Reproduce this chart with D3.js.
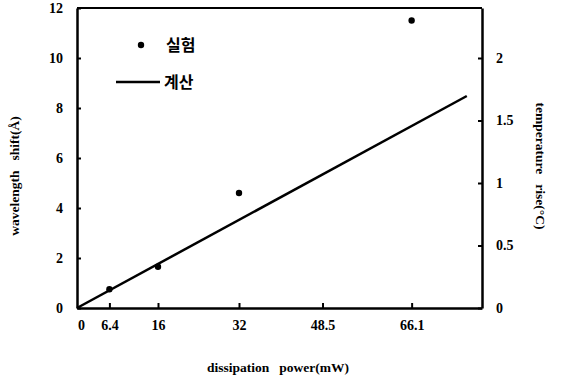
<!DOCTYPE html>
<html lang="en">
<head>
<meta charset="utf-8">
<script src="https://d3js.org/d3.v7.min.js"></script>
<style>
  body { margin: 0; background: #fff; }
  text { font-family: "Liberation Serif", "DejaVu Serif", serif; font-weight: bold; fill: #000; }
  .kr { font-family: "Noto Sans CJK KR", sans-serif; font-weight: bold; }
  .title { white-space: pre; }
</style>
</head>
<body>
<script>
// measured points (실험)
var powerPts = [6.4, 16, 32, 66.1];
var shiftPts = [0.75, 1.65, 4.6, 11.5];
// calculated line (계산)
var powerLine = [0, 77];
var shiftLine = [0, 8.48];
var xTicks = [0, 6.4, 16, 32, 48.5, 66.1];
var yTicks = [0, 2, 4, 6, 8, 10, 12];
var tTicks = [0, 0.5, 1, 1.5, 2];

var W = 563, H = 383;
var pLeft = 77, pRight = 482, pTop = 8, pBottom = 308;

var svg = d3.select("body").append("svg")
    .attr("width", W).attr("height", H);

var x = d3.scaleLinear().domain([0, 80]).range([pLeft, pRight]);
var y = d3.scaleLinear().domain([0, 12]).range([pBottom, pTop]);
var yT = d3.scaleLinear().domain([0, 2.4]).range([pBottom, pTop]);

// frame top line
svg.append("line").attr("x1", pLeft).attr("x2", pRight).attr("y1", pTop).attr("y2", pTop)
    .attr("stroke", "#000").attr("stroke-width", 2);

var gl = svg.append("g").attr("transform", "translate(" + pLeft + ",0)")
    .call(d3.axisLeft(y).tickValues(yTicks).tickSizeInner(-4).tickSizeOuter(0).tickPadding(14));
var gb = svg.append("g").attr("transform", "translate(0," + pBottom + ")")
    .call(d3.axisBottom(x).tickValues(xTicks).tickSizeInner(-5).tickSizeOuter(0).tickPadding(12)
      .tickFormat(function (d) { return d; }));
var gr = svg.append("g").attr("transform", "translate(" + pRight + ",0)")
    .call(d3.axisRight(yT).tickValues(tTicks).tickSizeInner(-4).tickSizeOuter(0).tickPadding(14)
      .tickFormat(function (d) { return d; }));

[gl, gb, gr].forEach(function (g) {
  g.select(".domain").attr("stroke", "#000").attr("stroke-width", 2.5);
  g.selectAll(".tick line").attr("stroke", "#000").attr("stroke-width", 2);
  g.selectAll(".tick text").attr("font-size", 14).style("font-family", "Liberation Serif")
    .style("font-weight", "bold");
});
gb.selectAll(".tick").filter(function (d) { return d === 0; }).select("line").remove();
gb.selectAll(".tick").filter(function (d) { return d === 0; }).select("text").attr("dx", 4);

// calculated line
var line = d3.line().x(function (d) { return x(d[0]); }).y(function (d) { return y(d[1]); });
svg.append("path").datum(d3.zip(powerLine, shiftLine))
    .attr("d", line).attr("fill", "none").attr("stroke", "#000").attr("stroke-width", 2.5);

// measured points
svg.selectAll(".pt").data(d3.zip(powerPts, shiftPts)).enter().append("circle")
    .attr("cx", function (d) { return x(d[0]); })
    .attr("cy", function (d) { return y(d[1]); })
    .attr("r", 3.2).attr("fill", "#000");

// legend
svg.append("circle").attr("cx", 141).attr("cy", 45).attr("r", 3.2).attr("fill", "#000");
svg.append("text").attr("class", "kr").attr("x", 166).attr("y", 51).attr("font-size", 16).text("실험");
svg.append("line").attr("x1", 116).attr("x2", 160).attr("y1", 82).attr("y2", 82)
    .attr("stroke", "#000").attr("stroke-width", 2.5);
svg.append("text").attr("class", "kr").attr("x", 164).attr("y", 88).attr("font-size", 16).text("계산");

// axis titles
svg.append("text").attr("class", "title").attr("transform", "translate(19,176) rotate(-90)")
    .attr("text-anchor", "middle").attr("font-size", 13.5).text("wavelength   shift(Å)");
svg.append("text").attr("class", "title").attr("transform", "translate(536,166) rotate(90)")
    .attr("text-anchor", "middle").attr("font-size", 13.5).text("temperature   rise(°C)");
svg.append("text").attr("class", "title").attr("x", 278).attr("y", 372)
    .attr("text-anchor", "middle").attr("font-size", 13.5).text("dissipation   power(mW)");
</script>
</body>
</html>
